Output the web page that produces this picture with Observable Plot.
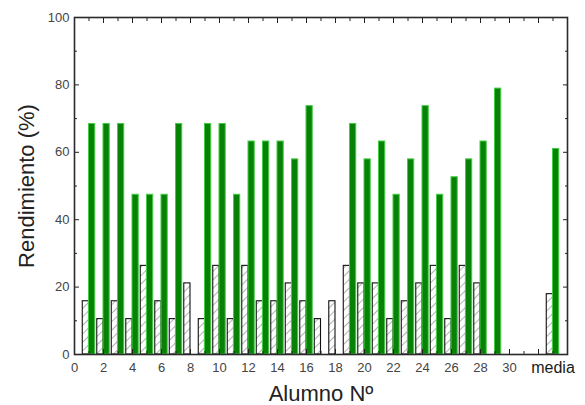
<!DOCTYPE html>
<html><head><meta charset="utf-8">
<script src="https://cdn.jsdelivr.net/npm/d3@7"></script>
<script src="https://cdn.jsdelivr.net/npm/@observablehq/plot@0.6"></script>
<style>
body{margin:0;background:#fff}
svg{font-family:"Liberation Sans",Arial,sans-serif}
</style>
</head><body><div id="chart"></div>
<script>
// Student positions on the x axis (the class mean "media" sits at 33)
const positions = [1,2,3,4,5,6,7,8,9,10,11,12,13,14,15,16,17,18,19,20,21,22,23,24,25,26,27,28,29,33];
const categories = ["1","2","3","4","5","6","7","8","9","10","11","12","13","14","15","16","17","18","19","20","21","22","23","24","25","26","27","28","29","media"];
// hatched series (left bar of each pair)
const hatchedValues = [15.8,10.5,15.8,10.5,26.3,15.8,10.5,21.1,10.5,26.3,10.5,26.3,15.8,15.8,21.1,15.8,10.5,15.8,26.3,21.1,21.1,10.5,15.8,21.1,26.3,10.5,26.3,21.1,null,17.9];
// green series (right bar of each pair)
const greenValues = [68.4,68.4,68.4,47.4,47.4,47.4,68.4,null,68.4,68.4,47.4,63.2,63.2,63.2,57.9,73.7,null,null,68.4,57.9,63.2,47.4,57.9,73.7,47.4,52.6,57.9,63.2,78.9,61.0];
// axis ticks
const xTickValues = [0,2,4,6,8,10,12,14,16,18,20,22,24,26,28,30];
const xTickLabels = ["0","2","4","6","8","10","12","14","16","18","20","22","24","26","28","30"];
const xMajorTicks = [0,2,4,6,8,10,12,14,16,18,20,22,24,26,28,30,32,34];
const xMinorTicks = [1,3,5,7,9,11,13,15,17,19,21,23,25,27,29,31,33];
const mediaTick = [33];
const mediaLabel = "media";
const yTickValues = [0,20,40,60,80,100];
const yMinorTicks = [10,30,50,70,90];
const xDomain = [0,34];
const yDomain = [0,100];

const rows = positions.map((p,i)=>({pos:p, cat:categories[i], h:hatchedValues[i], g:greenValues[i]}));
const xLabelMap = new Map(xTickValues.map((v,i)=>[v, xTickLabels[i]]));
const halfW = 0.43;

const plot = Plot.plot({
  width: 585, height: 405,
  marginLeft: 74, marginRight: 18, marginTop: 17, marginBottom: 51,
  x: {domain: xDomain},
  y: {domain: yDomain},
  style: {fontFamily: '"Liberation Sans", Arial, sans-serif', background: "#fff"},
  marks: [
    Plot.rectY(rows.filter(d=>d.h!=null), {x1: d=>d.pos-halfW, x2: d=>d.pos, y: "h", fill: "url(#hatch)", stroke: "#111", strokeWidth: 1.1}),
    Plot.rectY(rows.filter(d=>d.g!=null), {x1: d=>d.pos, x2: d=>d.pos+halfW, y: "g", fill: "#078207", stroke: "#45cc45", strokeWidth: 1}),
    // bottom axis
    Plot.axisX({anchor: "bottom", ticks: xTickValues, tickFormat: d=>xLabelMap.get(d), tickSize: 0, tickPadding: 8, fontSize: 13, fill: "#444", label: "Alumno Nº", labelAnchor: "center", labelOffset: 46, labelArrow: "none"}),
    Plot.axisX({anchor: "bottom", ticks: mediaTick, tickFormat: ()=>mediaLabel, tickSize: 0, tickPadding: 7, fontSize: 16, fill: "#1a1a1a", label: null}),
    Plot.axisX({anchor: "bottom", ticks: xMajorTicks, tickSize: -5, tickFormat: ()=>"", label: null, stroke: "#222"}),
    Plot.axisX({anchor: "bottom", ticks: xMinorTicks, tickSize: -3, tickFormat: ()=>"", label: null, stroke: "#222"}),
    Plot.axisX({anchor: "top", ticks: xMajorTicks, tickSize: -5, tickFormat: ()=>"", label: null, stroke: "#222"}),
    Plot.axisX({anchor: "top", ticks: xMinorTicks, tickSize: -3, tickFormat: ()=>"", label: null, stroke: "#222"}),
    // left axis
    Plot.axisY({anchor: "left", ticks: yTickValues, tickSize: -5, tickPadding: 10, fontSize: 13, fill: "#444", stroke: "#222", label: "Rendimiento (%)", labelAnchor: "center", labelOffset: 56, labelArrow: "none"}),
    Plot.axisY({anchor: "left", ticks: yMinorTicks, tickSize: -3, tickFormat: ()=>"", label: null, stroke: "#222"}),
    Plot.axisY({anchor: "right", ticks: yTickValues, tickSize: -5, tickFormat: ()=>"", label: null, stroke: "#222"}),
    Plot.axisY({anchor: "right", ticks: yMinorTicks, tickSize: -3, tickFormat: ()=>"", label: null, stroke: "#222"}),
    Plot.frame({stroke: "#2a2a2a", strokeWidth: 1.6})
  ]
});

const svg = d3.select(plot);
const defs = svg.insert("defs", ":first-child");
const pat = defs.append("pattern").attr("id","hatch").attr("patternUnits","userSpaceOnUse")
  .attr("width",6).attr("height",6).attr("patternTransform","rotate(45)");
pat.append("rect").attr("width",6).attr("height",6).attr("fill","#fff");
pat.append("line").attr("x1",0).attr("y1",0).attr("x2",0).attr("y2",6).attr("stroke","#666").attr("stroke-width",1);

// enlarge axis titles
svg.selectAll("[aria-label='x-axis label'] text, [aria-label='y-axis label'] text")
  .attr("font-size", 22).attr("fill", "#222");

document.getElementById("chart").appendChild(plot);
</script>
</body></html>
